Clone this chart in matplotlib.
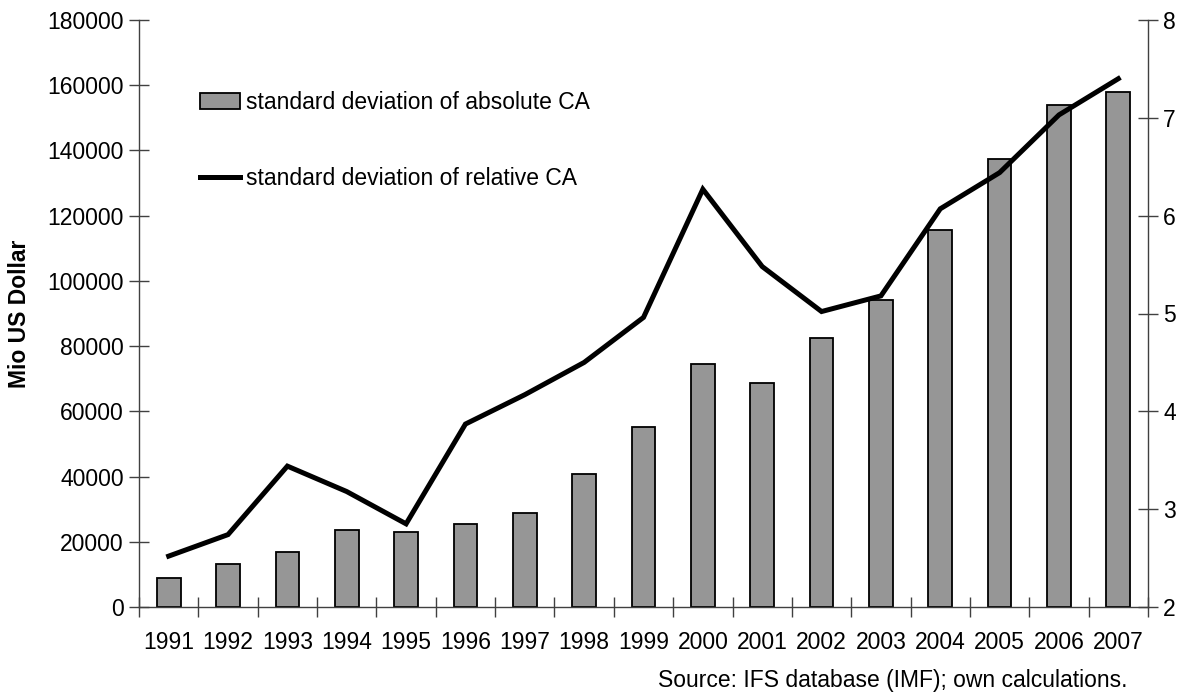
import matplotlib
matplotlib.use("Agg")
import matplotlib.pyplot as plt
import numpy as np
from matplotlib.patches import Patch
from matplotlib.lines import Line2D

years = [str(y) for y in range(1991, 2008)]
abs_ca = [9000, 13100, 17000, 23500, 22900, 25500, 28900, 40900, 55200,
          74600, 68800, 82600, 94200, 115600, 137300, 154000, 157900]
rel_ca = [2.52, 2.74, 3.44, 3.18, 2.85, 3.87, 4.17, 4.50, 4.96,
          6.27, 5.48, 5.02, 5.18, 6.07, 6.44, 7.03, 7.40]
left_ticks = list(range(0, 180001, 20000))
right_ticks = [2, 3, 4, 5, 6, 7, 8]

plt.rcParams['font.family'] = ['Liberation Sans', 'DejaVu Sans']
fs = 16.5

fig = plt.figure(figsize=(11.84, 6.93), dpi=100)
ax = fig.add_axes([139/1184, 1-607/693, (1148-139)/1184, (607-20)/693])
x = np.arange(len(years))
ax.bar(x, abs_ca, width=0.4, color='#969696', edgecolor='black', linewidth=1.3, zorder=2)
ax.set_xlim(-0.5, len(years)-0.5)
ax.set_ylim(0, 180000)
ax.set_yticks(left_ticks)
ax.set_yticklabels([str(t) for t in left_ticks], fontsize=fs)
ax.set_xticks(np.arange(-0.5, len(years), 1.0))
ax.set_xticklabels([])
ax.set_xticks(x, minor=True)
ax.set_xticklabels(years, minor=True, fontsize=fs)
ax.tick_params(axis='x', which='major', direction='inout', length=14, width=1, color='#404040')
ax.tick_params(axis='x', which='minor', length=0, pad=17)
ax.tick_params(axis='y', direction='inout', length=14, width=1, color='#404040', pad=4)
for s in ['top', 'right']:
    ax.spines[s].set_visible(False)
for s in ['left', 'bottom']:
    ax.spines[s].set_color('#404040')
    ax.spines[s].set_linewidth(1)
ax.set_ylabel('Mio US Dollar', fontsize=fs, fontweight='bold', labelpad=12)

ax2 = ax.twinx()
ax2.plot(x, rel_ca, color='black', linewidth=3.6, solid_joinstyle='miter', zorder=3)
ax2.set_ylim(2, 8)
ax2.set_yticks(right_ticks)
ax2.set_yticklabels([str(t) for t in right_ticks], fontsize=fs)
ax2.tick_params(axis='y', direction='inout', length=14, width=1, color='#404040', pad=4)
for s in ['top', 'left', 'bottom']:
    ax2.spines[s].set_visible(False)
ax2.spines['right'].set_color('#404040')
ax2.spines['right'].set_linewidth(1)

handles = [Patch(facecolor='#969696', edgecolor='black', linewidth=1.3),
           Line2D([0], [0], color='black', linewidth=3.6)]
labels = ['standard deviation of absolute CA', 'standard deviation of relative CA']
ax2.legend(handles, labels, loc='upper left', bbox_to_anchor=(200/1184, 1-91/693),
           bbox_transform=fig.transFigure, frameon=False, fontsize=fs,
           handlelength=1.75, handleheight=0.66, handletextpad=0.26,
           labelspacing=2.3, borderpad=0, borderaxespad=0)

fig.text(1127/1184, 1-680/693, 'Source: IFS database (IMF); own calculations.',
         ha='right', va='center', fontsize=fs)

fig.savefig('out.png', dpi=100)
